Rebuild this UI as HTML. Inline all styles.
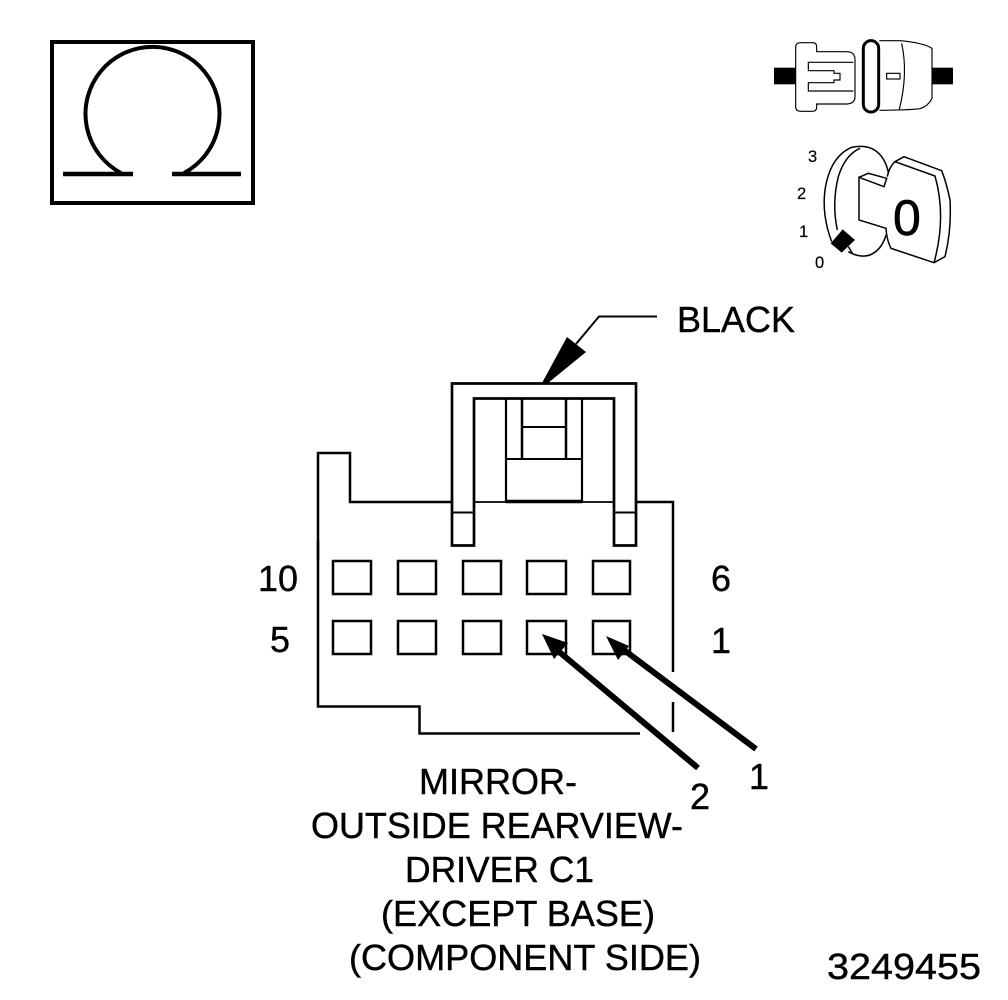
<!DOCTYPE html>
<html>
<head>
<meta charset="utf-8">
<style>
html,body{margin:0;padding:0;background:#fff;width:1008px;height:1000px;overflow:hidden}
svg{display:block}
text{font-family:"Liberation Sans",sans-serif;fill:#000;stroke:#000;stroke-width:.4px;font-size:36px}
text.s{font-size:16.500px;stroke-width:.2px}
text.k{font-size:50px;stroke-width:.7px}
</style>
</head>
<body>
<svg width="1008" height="1000" viewBox="0 0 1008 1000" xmlns="http://www.w3.org/2000/svg">
<rect width="1008" height="1000" fill="#fff"/>

<!-- Omega box -->
<g fill="none" stroke="#000">
  <rect x="52" y="42" width="201" height="161" stroke-width="4"/>
  <path d="M121 173 A67 67 0 1 1 184 173" stroke-width="4"/>
  <path d="M63 174H133M172 174H241" stroke-width="4.500"/>
</g>

<!-- Plug icon -->
<g transform="translate(760 30) scale(.33333)" fill="none" stroke="#000" stroke-width="3.500">
  <rect x="42" y="113" width="65" height="50" fill="#000" stroke="none"/>
  <rect x="515" y="113" width="64" height="50" fill="#000" stroke="none"/>
  <path d="M107 52Q107 38 122 38H158Q170 38 170 50V65H262Q285 67 285 88V200Q285 220 262 222H170V232Q170 244 156 244H122Q107 244 107 230Z"/>
  <path d="M280 97H145V122H222V130H240V150H222V158H145V183H280"/>
  <rect x="310" y="32" width="46" height="214" rx="23" stroke-width="9"/>
  <path d="M358 32H420Q490 38 516 55V205Q505 228 480 236Q450 240 358 241"/>
  <path d="M425 40Q445 130 418 238"/>
  <rect x="380" y="130" width="40" height="17"/>
</g>

<!-- Key icon -->
<g transform="translate(780 140) scale(.33333)" fill="none" stroke="#000" stroke-width="4.500">
  <path d="M155 305Q125 225 135 150Q150 50 215 22Q275 10 305 50Q320 70 325 98"/>
  <path d="M172 270Q155 190 175 110Q195 45 240 25"/>
  <path d="M205 335Q240 355 270 345Q305 330 318 285"/>
  <path d="M237 112L265 100L320 115L312 140L237 112V240L318 265Q320 300 333 325L462 368L495 350Q515 270 510 180Q500 130 485 92L372 50L345 65Q328 80 322 110"/>
  <path d="M345 65L465 108Q500 230 462 368"/>
  <polygon points="188,268 225,300 185,338 152,310" fill="#000" stroke="none"/>
  <path d="M205 320L217 340"/>
</g>
<text class="k" x="893" y="235">0</text>
<text class="s" x="808" y="162">3</text>
<text class="s" x="797" y="199">2</text>
<text class="s" x="799" y="237">1</text>
<text class="s" x="815" y="268">0</text>

<!-- Connector body -->
<g fill="none" stroke="#000">
  <path d="M318 560V453H350V502H452" stroke-width="2.500"/>
  <path d="M318 540V706.500H419.500V733.500H640" stroke-width="2.500"/>
  <path d="M636 502H673V672" stroke-width="2.500"/>
  <path d="M673 702V732" stroke-width="2.500"/>
  <path d="M452 545.500V383.500H636V545.500H614V398.500H474V545.500Z" stroke-width="2.700"/>
  <path d="M452 512.500H474M614 512.500H636" stroke-width="2"/>
  <path d="M474 502H506M582 502H614" stroke-width="1.800"/>
  <path d="M506 398V501.500H582V398" stroke-width="2.200"/>
  <path d="M506 501.500H582" stroke-width="3.500"/>
  <path d="M506 459H582" stroke-width="2"/>
  <path d="M522 399V459M566 399V459" stroke-width="2.500"/>
  <path d="M522 427H566" stroke-width="2"/>
  <path d="M657 316.500H599L576 344" stroke-width="2"/>
</g>
<polygon points="567,337 586,352 548,383 542,383" fill="#000"/>

<!-- Pins -->
<g fill="none" stroke="#000" stroke-width="2.500">
  <rect x="333" y="561" width="38" height="33"/>
  <rect x="398" y="561" width="38" height="33"/>
  <rect x="463" y="561" width="38" height="33"/>
  <rect x="527" y="561" width="39" height="33"/>
  <rect x="593" y="561" width="37" height="33"/>
  <rect x="333" y="621" width="38" height="33"/>
  <rect x="398" y="621" width="38" height="33"/>
  <rect x="463" y="621" width="38" height="33"/>
  <rect x="527" y="621" width="39" height="33"/>
  <rect x="593" y="621" width="37" height="33"/>
</g>

<!-- Arrows -->
<g stroke="#000" stroke-width="6" fill="none">
  <path d="M756 749L620 647"/>
  <path d="M698 768L557 650"/>
</g>
<polygon points="606,636 629,646 618,660" fill="#000"/>
<polygon points="542,634 568,643 554,659" fill="#000"/>

<!-- Labels -->
<text x="677" y="332" textLength="118" lengthAdjust="spacingAndGlyphs">BLACK</text>
<text x="258" y="591" textLength="40" lengthAdjust="spacingAndGlyphs">10</text>
<text x="270" y="652" textLength="20" lengthAdjust="spacingAndGlyphs">5</text>
<text x="711" y="591" textLength="20" lengthAdjust="spacingAndGlyphs">6</text>
<text x="711" y="653" textLength="20" lengthAdjust="spacingAndGlyphs">1</text>
<text x="749" y="789" textLength="20" lengthAdjust="spacingAndGlyphs">1</text>
<text x="690" y="809" textLength="20" lengthAdjust="spacingAndGlyphs">2</text>
<text x="419" y="794" textLength="158" lengthAdjust="spacingAndGlyphs">MIRROR-</text>
<text x="311" y="838" textLength="372" lengthAdjust="spacingAndGlyphs">OUTSIDE REARVIEW-</text>
<text x="405" y="882" textLength="189" lengthAdjust="spacingAndGlyphs">DRIVER C1</text>
<text x="381" y="926" textLength="274" lengthAdjust="spacingAndGlyphs">(EXCEPT BASE)</text>
<text x="349" y="970" textLength="352" lengthAdjust="spacingAndGlyphs">(COMPONENT SIDE)</text>
<text x="827" y="979" textLength="154" lengthAdjust="spacingAndGlyphs">3249455</text>
</svg>
</body>
</html>
